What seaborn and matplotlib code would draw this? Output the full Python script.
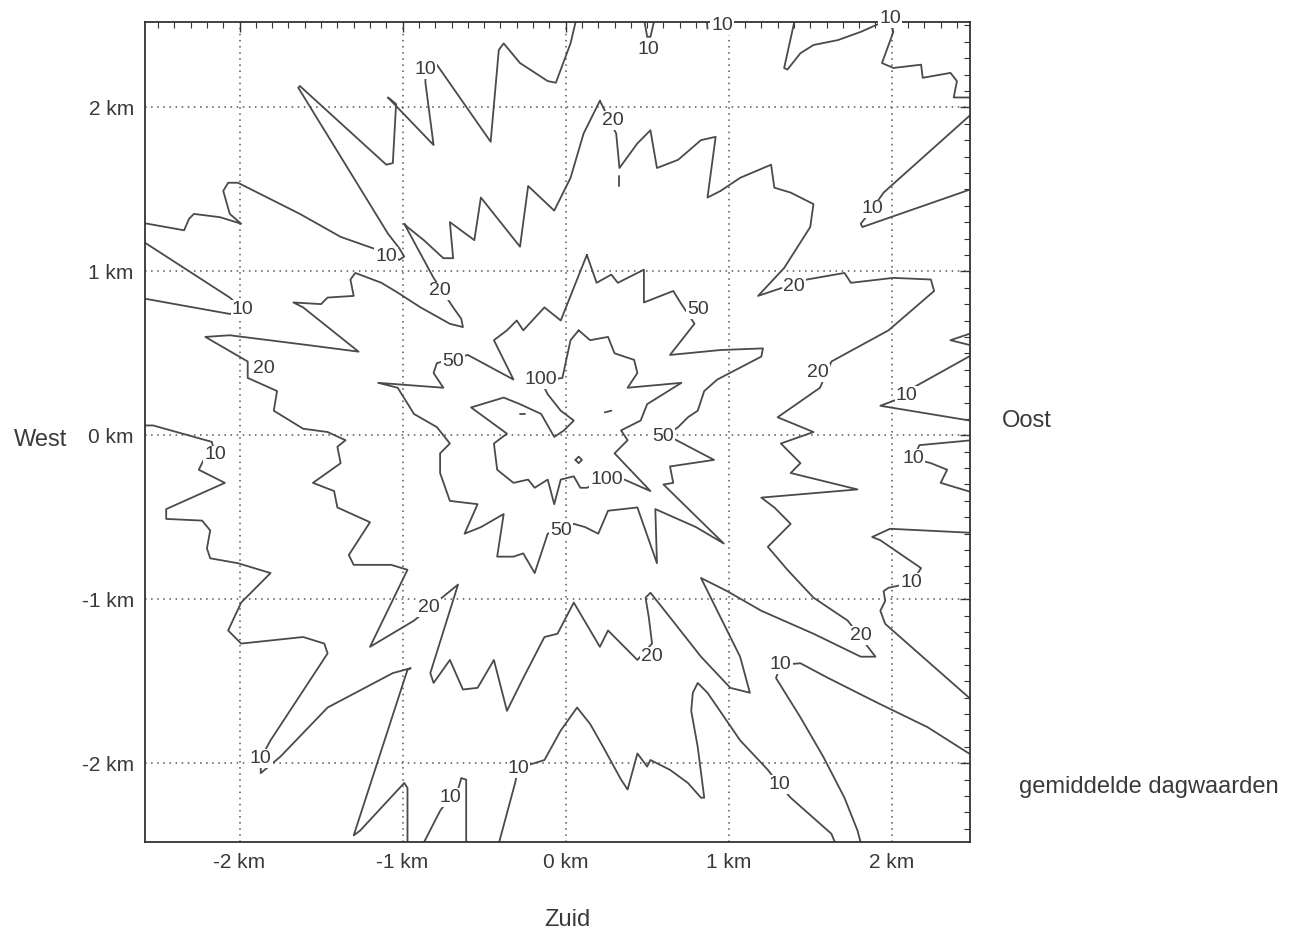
import matplotlib
matplotlib.use("Agg")
import matplotlib.pyplot as plt
import pandas as pd
import seaborn as sns
from matplotlib.ticker import MultipleLocator

# isolines of the daily mean, (x, y) in km from the source
iso100 = [
    [(0.08, 0.64), (0.15, 0.58), (0.26, 0.60), (0.30, 0.50), (0.42, 0.46), (0.44, 0.38),
     (0.38, 0.29), (0.71, 0.32), (0.50, 0.19), (0.46, 0.09), (0.34, 0.03), (0.38, -0.03),
     (0.30, -0.11), (0.52, -0.34), (0.36, -0.27), (0.25, -0.27), (0.13, -0.32), (0.09, -0.32),
     (0.05, -0.25), (-0.03, -0.27), (-0.07, -0.42), (-0.11, -0.27), (-0.19, -0.32),
     (-0.23, -0.27), (-0.32, -0.29), (-0.42, -0.21), (-0.44, -0.05), (-0.36, 0.01),
     (-0.58, 0.17), (-0.38, 0.23), (-0.28, 0.19), (-0.15, 0.13), (-0.07, -0.01),
     (-0.01, 0.03), (0.05, 0.09), (-0.03, 0.15), (-0.11, 0.25), (-0.15, 0.33),
     (-0.02, 0.35), (0.03, 0.58), (0.08, 0.64)],
    [(0.06, -0.15), (0.08, -0.13), (0.10, -0.15), (0.08, -0.17), (0.06, -0.15)],
    [(-0.28, 0.13), (-0.25, 0.13)],
    [(0.24, 0.14), (0.28, 0.15)],
]

iso50 = [
    [(0.13, 1.10), (0.19, 0.93), (0.28, 0.98), (0.32, 0.93), (0.48, 1.01), (0.48, 0.81),
     (0.66, 0.88), (0.71, 0.80), (0.79, 0.68), (0.64, 0.49), (0.95, 0.52), (1.21, 0.53),
     (1.20, 0.48), (0.93, 0.34), (0.85, 0.27), (0.81, 0.15), (0.75, 0.11), (0.69, 0.05),
     (0.62, 0.00), (0.68, -0.03), (0.91, -0.15), (0.64, -0.19), (0.66, -0.29), (0.60, -0.30),
     (0.97, -0.66), (0.80, -0.56), (0.55, -0.45), (0.56, -0.78), (0.44, -0.44), (0.26, -0.46),
     (0.20, -0.60), (0.12, -0.56), (0.05, -0.54), (-0.11, -0.60), (-0.15, -0.72),
     (-0.19, -0.84), (-0.26, -0.72), (-0.32, -0.74), (-0.42, -0.74), (-0.38, -0.48),
     (-0.52, -0.56), (-0.62, -0.60), (-0.54, -0.42), (-0.71, -0.40), (-0.77, -0.23),
     (-0.77, -0.11), (-0.71, -0.05), (-0.79, 0.05), (-0.93, 0.13), (-1.03, 0.29),
     (-1.15, 0.32), (-0.75, 0.29), (-0.81, 0.38), (-0.79, 0.44), (-0.60, 0.49),
     (-0.32, 0.34), (-0.44, 0.58), (-0.36, 0.64), (-0.30, 0.70), (-0.26, 0.64),
     (-0.13, 0.78), (-0.03, 0.70), (0.13, 1.10)],
]

iso20 = [
    [(0.21, 2.04), (0.31, 1.84), (0.33, 1.63), (0.44, 1.78), (0.52, 1.86), (0.56, 1.63),
     (0.69, 1.68), (0.83, 1.80), (0.92, 1.82), (0.87, 1.45), (0.95, 1.49), (1.07, 1.57),
     (1.26, 1.65), (1.28, 1.51), (1.38, 1.48), (1.52, 1.41), (1.50, 1.27), (1.34, 1.02),
     (1.18, 0.85), (1.48, 0.95), (1.71, 0.99), (1.75, 0.93), (2.01, 0.96), (2.24, 0.95),
     (2.26, 0.88), (1.98, 0.64), (1.63, 0.45), (1.56, 0.29), (1.30, 0.11), (1.52, 0.02),
     (1.32, -0.05), (1.44, -0.17), (1.38, -0.23), (1.79, -0.33), (1.20, -0.38),
     (1.28, -0.44), (1.38, -0.54), (1.24, -0.68), (1.36, -0.82), (1.52, -0.99),
     (1.73, -1.13), (1.90, -1.35), (1.81, -1.35), (1.52, -1.21), (1.20, -1.07),
     (0.99, -0.95), (0.83, -0.87), (0.95, -1.11), (1.07, -1.35), (1.13, -1.57),
     (1.01, -1.54), (0.83, -1.35), (0.64, -1.11), (0.52, -0.96), (0.49, -0.99),
     (0.51, -1.11), (0.53, -1.27), (0.44, -1.37), (0.26, -1.19), (0.21, -1.29),
     (0.05, -1.02), (-0.05, -1.21), (-0.13, -1.23), (-0.26, -1.48), (-0.36, -1.68),
     (-0.44, -1.37), (-0.54, -1.54), (-0.63, -1.55), (-0.71, -1.37), (-0.81, -1.51),
     (-0.83, -1.45), (-0.66, -0.91), (-0.93, -1.13), (-1.20, -1.29), (-0.97, -0.82),
     (-1.07, -0.79), (-1.30, -0.79), (-1.33, -0.73), (-1.20, -0.53), (-1.40, -0.44),
     (-1.42, -0.34), (-1.55, -0.29), (-1.38, -0.17), (-1.40, -0.07), (-1.35, -0.03),
     (-1.46, 0.02), (-1.61, 0.04), (-1.79, 0.15), (-1.77, 0.27), (-1.95, 0.35),
     (-1.95, 0.45), (-2.21, 0.60), (-2.06, 0.61), (-1.58, 0.55), (-1.27, 0.51),
     (-1.61, 0.78), (-1.67, 0.81), (-1.50, 0.80), (-1.46, 0.84), (-1.30, 0.85),
     (-1.32, 0.95), (-1.29, 0.99), (-1.13, 0.93), (-1.03, 0.87), (-0.89, 0.78),
     (-0.71, 0.68), (-0.63, 0.66), (-0.64, 0.71), (-0.69, 0.78), (-0.81, 0.96),
     (-0.99, 1.29), (-0.97, 1.27), (-0.87, 1.19), (-0.75, 1.08), (-0.69, 1.08),
     (-0.71, 1.30), (-0.56, 1.19), (-0.52, 1.45), (-0.28, 1.15), (-0.23, 1.52),
     (-0.07, 1.37), (0.03, 1.57), (0.11, 1.84), (0.21, 2.04)],
    [(0.33, 1.58), (0.33, 1.52)],
]

iso10 = [
    [(-2.62, 1.30), (-2.34, 1.25), (-2.31, 1.32), (-2.28, 1.35), (-2.12, 1.33), (-1.99, 1.29),
     (-2.06, 1.35), (-2.10, 1.49), (-2.07, 1.54), (-2.01, 1.54), (-1.83, 1.45), (-1.63, 1.35),
     (-1.38, 1.21), (-1.18, 1.14), (-1.02, 1.07), (-0.99, 1.09), (-1.02, 1.14), (-1.09, 1.23),
     (-1.64, 2.12), (-1.63, 2.13), (-1.10, 1.65), (-1.06, 1.66), (-1.04, 2.02), (-1.09, 2.06),
     (-0.81, 1.77), (-0.86, 2.15), (-0.86, 2.23), (-0.79, 2.26), (-0.46, 1.79), (-0.41, 2.35),
     (-0.38, 2.39), (-0.28, 2.27), (-0.11, 2.16), (-0.06, 2.15), (0.03, 2.39), (0.08, 2.60)],
    [(0.47, 2.60), (0.50, 2.43), (0.52, 2.43), (0.56, 2.60)],
    [(0.86, 2.60), (0.87, 2.48)],
    [(1.42, 2.60), (1.34, 2.24), (1.36, 2.23), (1.44, 2.33), (1.52, 2.38), (1.67, 2.41),
     (1.81, 2.46), (1.90, 2.50), (1.99, 2.54), (2.01, 2.46), (1.94, 2.27), (2.01, 2.24),
     (2.18, 2.26), (2.19, 2.18), (2.36, 2.21), (2.40, 2.16), (2.38, 2.06), (2.60, 2.06)],
    [(2.58, 2.04), (1.95, 1.48), (1.88, 1.38), (1.81, 1.29), (1.82, 1.27), (2.60, 1.54)],
    [(2.60, 0.66), (2.36, 0.58), (2.60, 0.52)],
    [(2.60, 0.55), (2.13, 0.29), (2.09, 0.24), (1.93, 0.18), (2.60, 0.07)],
    [(2.60, -0.02), (2.17, -0.06), (2.13, -0.14), (2.24, -0.17), (2.34, -0.21),
     (2.30, -0.29), (2.60, -0.38)],
    [(2.60, -0.60), (1.99, -0.57), (1.88, -0.62), (1.93, -0.64), (2.18, -0.81),
     (2.12, -0.90), (1.98, -0.93), (1.95, -0.95), (1.96, -1.01), (1.93, -1.07),
     (1.96, -1.15), (2.60, -1.71)],
    [(1.84, -2.60), (1.79, -2.41), (1.71, -2.21), (1.58, -1.96), (1.44, -1.72), (1.29, -1.48),
     (1.32, -1.40), (1.44, -1.39), (1.61, -1.48), (1.91, -1.63), (2.22, -1.78), (2.60, -2.02)],
    [(1.70, -2.60), (1.63, -2.43), (1.38, -2.21), (1.31, -2.13), (1.24, -2.04), (1.07, -1.86),
     (0.87, -1.57), (0.81, -1.51), (0.78, -1.57), (0.77, -1.68), (0.81, -1.90), (0.85, -2.21),
     (0.83, -2.21), (0.75, -2.12), (0.64, -2.04), (0.52, -1.98), (0.50, -2.02), (0.44, -1.94),
     (0.38, -2.16), (0.34, -2.10), (0.23, -1.90), (0.15, -1.76), (0.07, -1.66), (-0.03, -1.80),
     (-0.13, -1.98), (-0.29, -2.03), (-0.31, -2.12), (-0.44, -2.60)],
    [(-0.93, -2.60), (-0.77, -2.29), (-0.71, -2.21), (-0.66, -2.16), (-0.64, -2.09),
     (-0.61, -2.10), (-0.61, -2.60)],
    [(-2.62, 0.06), (-2.53, 0.06), (-2.17, -0.04), (-2.15, -0.12), (-2.22, -0.15),
     (-2.25, -0.21), (-2.09, -0.29), (-2.45, -0.45), (-2.45, -0.51), (-2.23, -0.52),
     (-2.18, -0.58), (-2.20, -0.69), (-2.18, -0.75), (-2.01, -0.78), (-1.81, -0.84),
     (-1.99, -1.02), (-2.07, -1.19), (-1.99, -1.27), (-1.61, -1.23), (-1.48, -1.27),
     (-1.46, -1.33), (-1.81, -1.86), (-1.87, -1.97), (-1.87, -2.06), (-1.75, -1.96),
     (-1.46, -1.66), (-1.06, -1.45), (-0.95, -1.42), (-0.97, -1.43), (-1.30, -2.44),
     (-1.26, -2.41), (-0.99, -2.12), (-0.97, -2.15), (-0.97, -2.60)],
    [(-2.62, 1.20), (-2.06, 0.84), (-1.98, 0.77), (-2.06, 0.74), (-2.62, 0.84)],
]

# contour labels: value and where it sits (km)
label_text = ["10"] * 16 + ["20"] * 8 + ["50"] * 4 + ["100"] * 2
label_x = [-0.86, 0.51, 0.96, 1.99, -1.10, -1.98, 1.88, 2.09, 2.13, 2.12, -2.15, -1.87,
           -0.71, -0.29, 1.31, 1.32,
           0.29, 1.40, -0.77, -1.85, 1.55, 1.81, 0.53, -0.84,
           0.81, -0.69, 0.60, -0.03,
           -0.15, 0.25]
label_y = [2.23, 2.35, 2.50, 2.54, 1.09, 0.77, 1.38, 0.24, -0.14, -0.90, -0.12, -1.97,
           -2.21, -2.03, -2.13, -1.40,
           1.92, 0.91, 0.88, 0.41, 0.38, -1.22, -1.35, -1.05,
           0.77, 0.45, -0.01, -0.58,
           0.34, -0.27]

km_ticks = [-2, -1, 0, 1, 2]
km_labels = ["-2 km", "-1 km", "0 km", "1 km", "2 km"]

line_color = "#4a4a4a"
text_color = "#3a3a3a"

sns.set_theme(style="white")
plt.rcParams["font.family"] = ["Liberation Sans", "DejaVu Sans"]

fig = plt.figure(figsize=(13.05, 9.34), dpi=100)
ax = fig.add_axes([0.1111, 0.0985, 0.6322, 0.8779])

for level, pieces in [(10, iso10), (20, iso20), (50, iso50), (100, iso100)]:
    rows = [(i, x, y) for i, p in enumerate(pieces) for x, y in p]
    df = pd.DataFrame(rows, columns=["piece", "x", "y"])
    sns.lineplot(data=df, x="x", y="y", units="piece", estimator=None, sort=False,
                 color=line_color, lw=1.3, ax=ax, legend=False)

for t, x, y in zip(label_text, label_x, label_y):
    ax.text(x, y, t, fontsize=14, ha="center", va="center", color=text_color,
            bbox=dict(boxstyle="square,pad=0.05", fc="white", ec="none"),
            zorder=5, clip_on=False)

ax.set_xlim(-2.58, 2.48)
ax.set_ylim(-2.48, 2.52)
ax.set_xlabel("")
ax.set_ylabel("")
ax.set_xticks(km_ticks, labels=km_labels)
ax.set_yticks(km_ticks, labels=km_labels)
ax.xaxis.set_minor_locator(MultipleLocator(0.1))
ax.yaxis.set_minor_locator(MultipleLocator(0.1))
ax.tick_params(which="both", direction="in", top=True, right=True, color="#333333")
ax.tick_params(which="major", length=7, width=1.0, labelsize=15, pad=8,
               labelcolor=text_color)
ax.tick_params(which="minor", length=4, width=0.8)
ax.grid(True, which="major", color="#555555", lw=1.1, ls=(0, (1, 3)))
for s in ax.spines.values():
    s.set_color("#333333")
    s.set_linewidth(1.3)

fig.text(0.031, 0.529, "West", fontsize=17, ha="center", va="center", color=text_color)
fig.text(0.787, 0.549, "Oost", fontsize=17, ha="center", va="center", color=text_color)
fig.text(0.435, 0.015, "Zuid", fontsize=17, ha="center", va="center", color=text_color)
fig.text(0.880, 0.157, "gemiddelde dagwaarden", fontsize=17, ha="center", va="center",
         color=text_color)

fig.savefig("out.png", dpi=100)
plt.close()
